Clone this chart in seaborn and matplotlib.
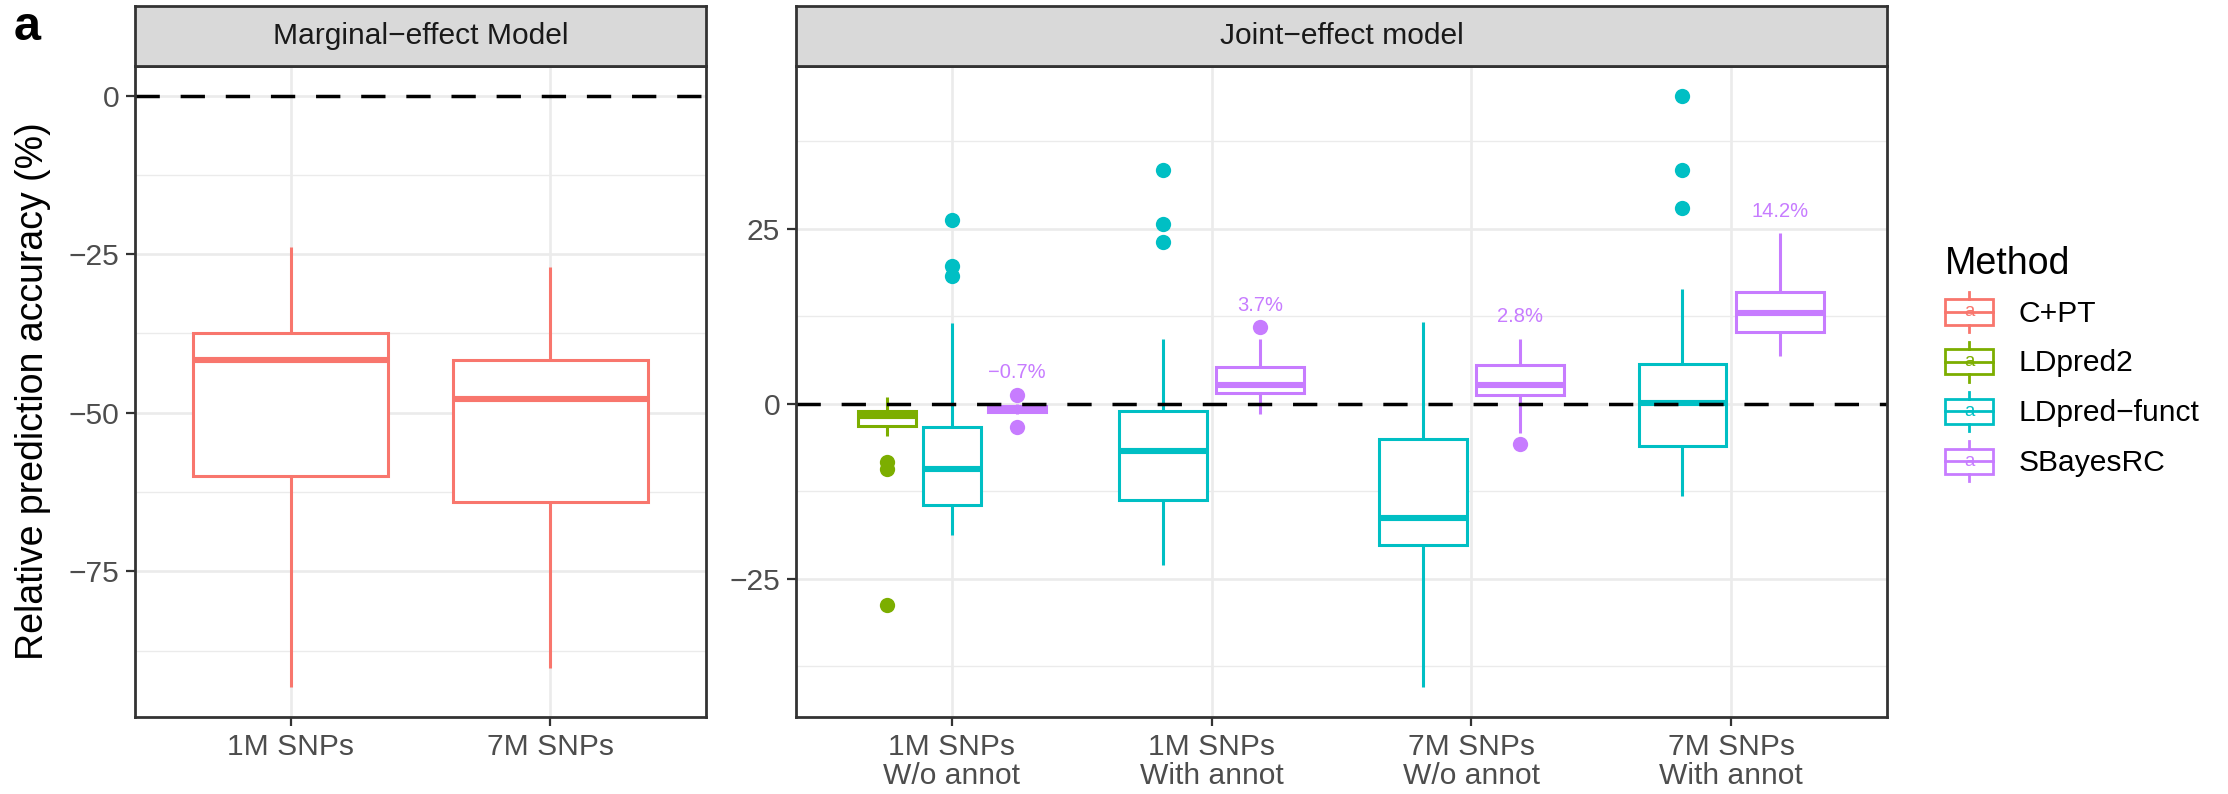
import numpy as np
import pandas as pd
import seaborn as sns
import matplotlib.pyplot as plt
from matplotlib.patches import Patch, Rectangle
from matplotlib.lines import Line2D
from matplotlib.text import Text
from matplotlib.legend_handler import HandlerBase

# methods and colours (ggplot hue palette)
methods = ["C+PT", "LDpred2", "LDpred\u2212funct", "SBayesRC"]
palette = ["#F8766D", "#7CAE00", "#00BFC4", "#C77CFF"]

marginal_settings = ["1M SNPs", "7M SNPs"]
joint_settings = ["1M SNPs\nW/o annot", "1M SNPs\nWith annot",
                  "7M SNPs\nW/o annot", "7M SNPs\nWith annot"]

# relative prediction accuracy (%)
cpt_1m = [-93.3, -71.5, -60.0, -50.2, -41.7, -39.8, -37.4, -30.6, -23.9]
cpt_7m = [-90.2, -75.3, -64.0, -55.6, -47.8, -44.9, -41.7, -34.2, -27.1]

ldpred2_1m_wo = [-28.8, -9.3, -8.3, -4.6, -3.2, -2.9, -2.5, -2.1, -1.8,
                 -1.6, -1.4, -1.2, -1.0, -0.7, -0.3, 0.4, 0.9]
funct_1m_wo = [-18.7, -17.2, -16.0, -15.3, -14.5, -12.8, -11.6, -10.2, -9.3,
               -7.9, -6.4, -4.8, -3.3, 11.6, 18.3, 19.6, 26.2]
sbrc_1m_wo = [-3.3, -1.5, -1.2, -1.0, -0.8, -0.6, -0.3, -0.1, 1.3]
funct_1m_with = [-23.0, -19.5, -17.1, -15.2, -13.7, -11.9, -9.8, -8.1, -6.7,
                 -5.2, -3.9, -2.4, -1.1, 9.3, 23.1, 25.6, 33.4]
sbrc_1m_with = [-1.4, 0.8, 1.6, 2.1, 2.7, 3.9, 5.2, 9.3, 11.0]
funct_7m_wo = [-40.5, -28.3, -20.1, -18.0, -16.3, -10.9, -5.0, 3.6, 11.7]
sbrc_7m_wo = [-5.7, -4.2, 1.2, 2.0, 2.7, 4.1, 5.6, 7.4, 9.3]
funct_7m_with = [-13.1, -11.0, -9.4, -7.5, -6.0, -4.6, -3.1, -1.4, 0.1,
                 1.5, 2.9, 4.3, 5.7, 16.4, 27.9, 33.4, 44.0]
sbrc_7m_with = [6.8, 8.9, 10.3, 11.6, 12.9, 14.3, 16.0, 20.1, 24.4]

sbrc_labels = ["\u22120.7%", "3.7%", "2.8%", "14.2%"]

boxes = [
    ("marginal", 0, "C+PT", cpt_1m),
    ("marginal", 1, "C+PT", cpt_7m),
    ("joint", 0, "LDpred2", ldpred2_1m_wo),
    ("joint", 0, "LDpred\u2212funct", funct_1m_wo),
    ("joint", 0, "SBayesRC", sbrc_1m_wo),
    ("joint", 1, "LDpred\u2212funct", funct_1m_with),
    ("joint", 1, "SBayesRC", sbrc_1m_with),
    ("joint", 2, "LDpred\u2212funct", funct_7m_wo),
    ("joint", 2, "SBayesRC", sbrc_7m_wo),
    ("joint", 3, "LDpred\u2212funct", funct_7m_with),
    ("joint", 3, "SBayesRC", sbrc_7m_with),
]

rows = []
for panel, s, m, vals in boxes:
    for v in vals:
        rows.append({"panel": panel, "setting": s, "method": m, "value": v})
df = pd.DataFrame(rows)

# dodge2-like positions: 0.75 wide group, 10% padding when boxes share a slot
pos = {}
for (panel, s), g in df.groupby(["panel", "setting"]):
    present = [m for m in methods if m in set(g["method"])]
    n = len(present)
    slot = 0.75 / n
    for i, m in enumerate(present):
        pos[(panel, s, m)] = (s + (i - (n - 1) / 2) * slot, slot * 0.9 if n > 1 else 0.75)
df["pos"] = [pos[(p, s, m)][0] for p, s, m in zip(df["panel"], df["setting"], df["method"])]

plt.rcParams["font.family"] = ["Liberation Sans", "DejaVu Sans"]

W, H = 2228, 794
fig = plt.figure(figsize=(W / 100, H / 100), dpi=100)


def fx(px):
    return px / W


def fy(px):
    return 1 - px / H


panel_top, panel_bot, strip_top = 66, 717, 6
ax_m = fig.add_axes([fx(135), fy(panel_bot), fx(706 - 135), (panel_bot - panel_top) / H])
ax_j = fig.add_axes([fx(796), fy(panel_bot), fx(1887 - 796), (panel_bot - panel_top) / H])

colors = dict(zip(methods, palette))

for ax, panel, labels, major in [(ax_m, "marginal", marginal_settings, [-75, -50, -25, 0]),
                                  (ax_j, "joint", joint_settings, [-25, 0, 25])]:
    sub = df[df["panel"] == panel]
    for (s, m), g in sub.groupby(["setting", "method"]):
        x, w = pos[(panel, s, m)]
        c = colors[m]
        sns.boxplot(data=g, x="pos", y="value", ax=ax, orient="x", native_scale=True,
                    width=w, color="white", linecolor=c, saturation=1, linewidth=2.2,
                    showcaps=False,
                    medianprops=dict(linewidth=4.4, color=c, solid_capstyle="butt"),
                    whiskerprops=dict(color=c, solid_capstyle="butt"),
                    flierprops=dict(marker="o", markersize=11, markerfacecolor=c,
                                    markeredgecolor=c, markeredgewidth=0))
        if m == "SBayesRC":
            ax.text(x, g["value"].max() + 3.1, sbrc_labels[s], color=c, fontsize=14.5,
                    ha="center", va="center")
    ax.axhline(0, color="black", lw=2.5, ls=(0, (7, 6)), zorder=6)

    lo, hi = min(sub["value"].min(), 0), max(sub["value"].max(), 0)
    pad = (hi - lo) * 0.05
    ylo, yhi = lo - pad, hi + pad
    minor = [t for t in np.arange(major[0] - 12.5, yhi, 25.0) if ylo < t < yhi and t not in major]
    ax.set_xticks(range(len(labels)))
    ax.set_xticklabels(labels, linespacing=1.05)
    ax.set_yticks(major)
    ax.set_yticks(minor, minor=True)
    ax.set_ylim(ylo, yhi)
    ax.set_xlim(-0.6, len(labels) - 0.4)
    ax.set_xlabel("")
    ax.set_ylabel("")
    ax.set_axisbelow(True)
    ax.grid(which="major", color="#EBEBEB", lw=1.9)
    ax.grid(which="minor", axis="y", color="#EBEBEB", lw=1.0)
    ax.tick_params(which="major", labelsize=21.6, labelcolor="#4D4D4D", color="#333333",
                   length=6.5, width=1.6, pad=5)
    ax.tick_params(which="minor", length=0)
    ax.set_facecolor("white")
    for sp in ax.spines.values():
        sp.set_color("#333333")
        sp.set_linewidth(2.0)
        sp.set_zorder(7)

# facet strips
for ax, title in [(ax_m, "Marginal\u2212effect Model"), (ax_j, "Joint\u2212effect model")]:
    b = ax.get_position()
    st = fig.add_axes([b.x0, fy(panel_top), b.width, (panel_top - strip_top) / H])
    st.set_facecolor("#D9D9D9")
    st.set_xticks([])
    st.set_yticks([])
    for sp in st.spines.values():
        sp.set_color("#333333")
        sp.set_linewidth(2.0)
    st.text(0.5, 0.5, title, ha="center", va="center", fontsize=21.6, color="#1A1A1A",
            transform=st.transAxes)

fig.text(fx(33), fy((panel_top + panel_bot) / 2), "Relative prediction accuracy (%)",
         rotation=90, ha="center", va="center", fontsize=27)
fig.text(fx(14), fy(40), "a", fontsize=35, fontweight="bold", ha="left", va="baseline")


class BoxKey(HandlerBase):
    def create_artists(self, legend, orig_handle, xdescent, ydescent, width, height,
                       fontsize, trans):
        c = orig_handle.get_edgecolor()
        x0, y0 = -xdescent, -ydescent
        cx, cy = x0 + width / 2, y0 + height / 2
        lw = 2.0
        arts = [
            Line2D([cx, cx], [y0, y0 + 0.18 * height], color=c, lw=lw),
            Line2D([cx, cx], [y0 + 0.82 * height, y0 + height], color=c, lw=lw),
            Rectangle((x0, y0 + 0.18 * height), width, 0.64 * height, fill=False,
                      edgecolor=c, lw=lw),
            Line2D([x0, x0 + width], [cy, cy], color=c, lw=lw),
            Text(cx, cy, "a", color=c, ha="center", va="center", fontsize=fontsize * 0.62),
        ]
        for a in arts:
            a.set_transform(trans)
        return arts


handles = [Patch(edgecolor=c, facecolor="none", label=m) for m, c in zip(methods, palette)]
fig.legend(handles=handles, handler_map={Patch: BoxKey()}, title="Method",
           loc="upper left", bbox_to_anchor=(fx(1909), fy(210)), frameon=False,
           fontsize=21.6, title_fontsize=27, handlelength=1.6, handleheight=1.67,
           handletextpad=0.85, labelspacing=0.33, borderpad=1.2, borderaxespad=0,
           alignment="left")

fig.savefig("out.png", dpi=100)
